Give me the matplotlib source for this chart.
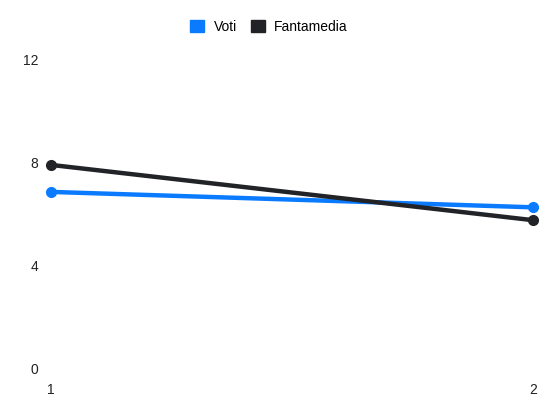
import matplotlib.pyplot as plt
from matplotlib.patches import Patch

plt.rcParams['font.family'] = ['Liberation Sans', 'DejaVu Sans']

giornate = [1, 2]
voti = [6.85, 6.25]
fantamedia = [7.9, 5.75]
y_ticks = [0, 4, 8, 12]

blue = '#0a7bff'
dark = '#212327'

fig = plt.figure(figsize=(5.5, 4.12), dpi=100)
ax = fig.add_axes([51 / 550, 1 - 368 / 412, (533 - 51) / 550, (368 - 59.5) / 412])

ax.plot(giornate, voti, color=blue, lw=3.2, marker='o', ms=7, solid_capstyle='round', clip_on=False, zorder=3)
ax.plot(giornate, fantamedia, color=dark, lw=3.2, marker='o', ms=7, solid_capstyle='round', clip_on=False, zorder=4)

ax.set_xlim(1, 2)
ax.set_ylim(0, 12)
ax.set_xticks(giornate)
ax.set_yticks(y_ticks)
ax.tick_params(length=0, labelsize=10, colors='#222222')
ax.tick_params(axis='y', pad=9)
ax.tick_params(axis='x', pad=11)
for s in ax.spines.values():
    s.set_visible(False)

handles = [Patch(color=blue, label='Voti'), Patch(color=dark, label='Fantamedia')]
fig.legend(handles=handles, loc='center', bbox_to_anchor=(269 / 550, 1 - 27 / 412), ncol=2,
           frameon=False, fontsize=10, handlelength=1.0, handleheight=1.0, handletextpad=0.7,
           columnspacing=1.0)

fig.savefig('out.png', dpi=100)
